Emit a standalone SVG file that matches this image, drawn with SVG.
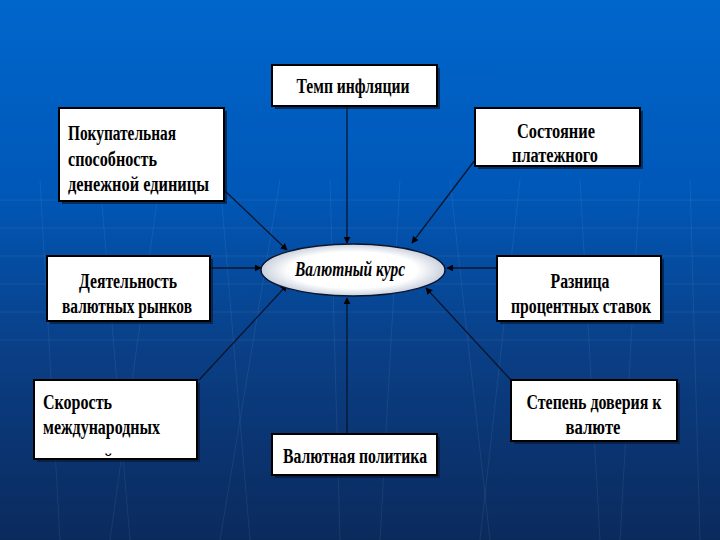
<svg xmlns="http://www.w3.org/2000/svg" width="720" height="540" viewBox="0 0 720 540">
<defs>
<linearGradient id="bg" x1="0" y1="0" x2="0" y2="1">
<stop offset="0" stop-color="#0066cc"/>
<stop offset="0.35" stop-color="#0058b8"/>
<stop offset="0.65" stop-color="#0a3f86"/>
<stop offset="1" stop-color="#0b2a5c"/>
</linearGradient>
<radialGradient id="ell" cx="0.5" cy="0.5" r="0.5">
<stop offset="0.7" stop-color="#ffffff"/>
<stop offset="1" stop-color="#c9d0dc"/>
</radialGradient>
<marker id="ah" viewBox="0 0 10 10" refX="9" refY="5" markerWidth="7" markerHeight="7" markerUnits="userSpaceOnUse" orient="auto">
<path d="M0,0 L10,5 L0,10 z" fill="#000"/>
</marker>
<clipPath id="clipS"><rect x="34" y="380" width="163" height="76"/></clipPath>
</defs>
<style>
.box{fill:#ffffff;stroke:#000;stroke-width:2}
.sh{fill:#061a3a;opacity:0.7}
.t{font-family:"Liberation Serif","Times New Roman",serif;font-weight:bold;font-size:20px;fill:#000}
.c{text-anchor:middle}
.conn line{stroke:#0a1630;stroke-width:1.3;marker-end:url(#ah)}
.grid line{stroke:#ffffff;stroke-opacity:0.07;stroke-width:1}
</style>
<rect width="720" height="540" fill="url(#bg)"/>
<g class="grid">
<line x1="0" y1="200" x2="720" y2="200"/>
<line x1="0" y1="228" x2="720" y2="228"/>
<line x1="0" y1="256" x2="720" y2="256"/>
<line x1="0" y1="284" x2="720" y2="284"/>
<line x1="0" y1="312" x2="720" y2="312"/>
<line x1="0" y1="340" x2="720" y2="340"/>
<line x1="40" y1="180" x2="60" y2="540"/>
<line x1="100" y1="180" x2="130" y2="540"/>
<line x1="160" y1="180" x2="110" y2="540"/>
<line x1="220" y1="180" x2="250" y2="540"/>
<line x1="280" y1="180" x2="220" y2="540"/>
<line x1="330" y1="180" x2="340" y2="540"/>
<line x1="400" y1="180" x2="380" y2="540"/>
<line x1="450" y1="180" x2="490" y2="540"/>
<line x1="520" y1="180" x2="480" y2="540"/>
<line x1="580" y1="180" x2="600" y2="540"/>
<line x1="640" y1="180" x2="620" y2="540"/>
<line x1="690" y1="180" x2="700" y2="540"/>
</g>
<g class="conn" id="connectors">
<line x1="347" y1="107" x2="347" y2="243"/>
<line x1="224" y1="190" x2="287" y2="250"/>
<line x1="475" y1="160" x2="412" y2="243"/>
<line x1="211" y1="268" x2="261" y2="268"/>
<line x1="497" y1="268" x2="447" y2="268"/>
<line x1="199" y1="380" x2="287" y2="285"/>
<line x1="347" y1="434" x2="347" y2="298"/>
<line x1="511" y1="380" x2="426" y2="288"/>
</g>
<g id="center">
<ellipse cx="353" cy="270" rx="92" ry="26" fill="url(#ell)" stroke="#0a1630" stroke-width="1.5"/>
<text class="t c" x="350" y="276" font-style="italic" textLength="110" lengthAdjust="spacingAndGlyphs">Валютный курс</text>
</g>
<g id="n-inflation">
<rect class="sh" x="275" y="68" width="165" height="41"/>
<rect class="box" x="272" y="65" width="165" height="41"/>
<text class="t c" x="353" y="93" textLength="113" lengthAdjust="spacingAndGlyphs">Темп инфляции</text>
</g>
<g id="n-purchasing">
<rect class="sh" x="62" y="111" width="165" height="93"/>
<rect class="box" x="59" y="108" width="165" height="93"/>
<text class="t" x="68" y="140" textLength="108" lengthAdjust="spacingAndGlyphs">Покупательная</text>
<text class="t" x="68" y="166" textLength="89" lengthAdjust="spacingAndGlyphs">способность</text>
<text class="t" x="68" y="191" textLength="141" lengthAdjust="spacingAndGlyphs">денежной единицы</text>
</g>
<g id="n-balance">
<rect class="sh" x="478" y="111" width="165" height="58"/>
<rect class="box" x="475" y="108" width="165" height="58"/>
<text class="t c" x="556" y="138" textLength="78" lengthAdjust="spacingAndGlyphs">Состояние</text>
<text class="t c" x="555" y="162" textLength="86" lengthAdjust="spacingAndGlyphs">платежного</text>
</g>
<g id="n-markets">
<rect class="sh" x="50" y="259" width="163" height="65"/>
<rect class="box" x="47" y="256" width="163" height="65"/>
<text class="t c" x="128" y="288" textLength="98" lengthAdjust="spacingAndGlyphs">Деятельность</text>
<text class="t c" x="127" y="313" textLength="130" lengthAdjust="spacingAndGlyphs">валютных рынков</text>
</g>
<g id="n-rates">
<rect class="sh" x="500" y="259" width="164" height="65"/>
<rect class="box" x="497" y="256" width="164" height="65"/>
<text class="t c" x="580" y="288" textLength="59" lengthAdjust="spacingAndGlyphs">Разница</text>
<text class="t c" x="581" y="313" textLength="140" lengthAdjust="spacingAndGlyphs">процентных ставок</text>
</g>
<g id="n-speed">
<rect class="sh" x="37" y="383" width="163" height="79"/>
<rect class="box" x="34" y="380" width="163" height="79"/>
<text class="t" x="43" y="409" textLength="69" lengthAdjust="spacingAndGlyphs">Скорость</text>
<text class="t" x="43" y="434" textLength="117" lengthAdjust="spacingAndGlyphs">международных</text>
<g clip-path="url(#clipS)"><text class="t" x="43" y="468" textLength="70" lengthAdjust="spacingAndGlyphs">платежей</text></g>
</g>
<g id="n-policy">
<rect class="sh" x="275" y="437" width="165" height="41"/>
<rect class="box" x="272" y="434" width="165" height="41"/>
<text class="t c" x="355" y="463" textLength="144" lengthAdjust="spacingAndGlyphs">Валютная политика</text>
</g>
<g id="n-trust">
<rect class="sh" x="514" y="383" width="166" height="61"/>
<rect class="box" x="511" y="380" width="166" height="61"/>
<text class="t c" x="594" y="409" textLength="135" lengthAdjust="spacingAndGlyphs">Степень доверия к</text>
<text class="t c" x="593" y="434" textLength="55" lengthAdjust="spacingAndGlyphs">валюте</text>
</g>
</svg>
